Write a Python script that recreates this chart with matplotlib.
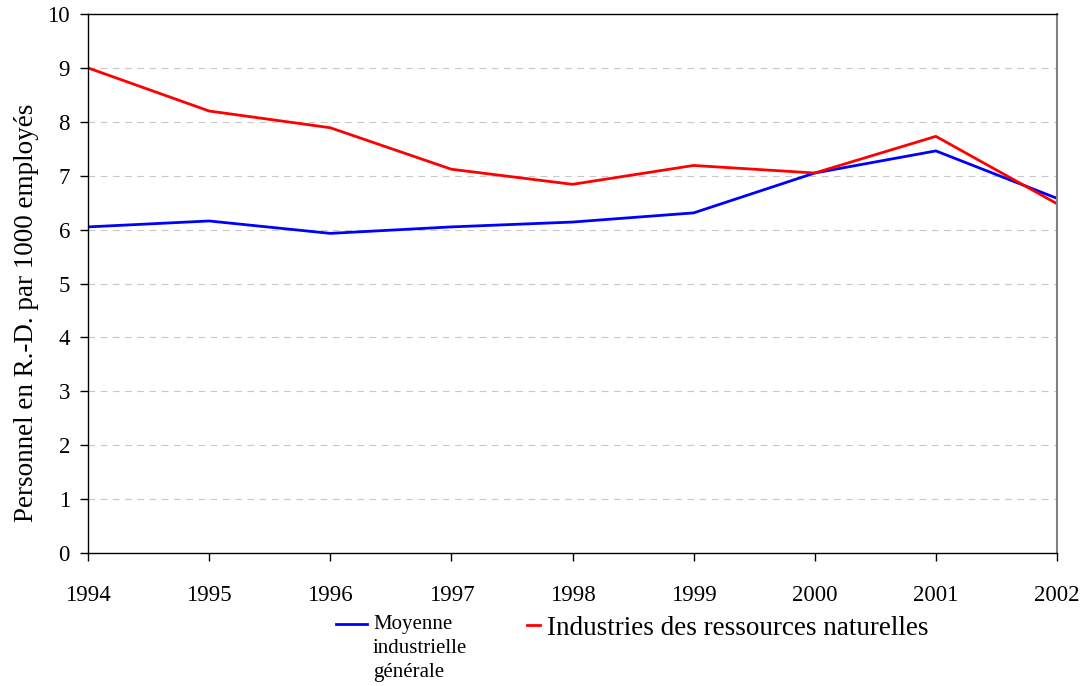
import matplotlib.pyplot as plt
from matplotlib.lines import Line2D

plt.rcParams['font.family'] = ['Liberation Serif', 'DejaVu Serif']

annees = [1994, 1995, 1996, 1997, 1998, 1999, 2000, 2001, 2002]
moyenne = [6.05, 6.16, 5.93, 6.05, 6.14, 6.31, 7.05, 7.46, 6.58]
ressources = [9.0, 8.2, 7.89, 7.12, 6.84, 7.19, 7.05, 7.73, 6.48]

W, H = 1084, 686
fig = plt.figure(figsize=(W / 100, H / 100), dpi=100)
ax = fig.add_axes([88 / W, 1 - 553 / H, (1057 - 88) / W, (553 - 14) / H])

ax.plot(annees, moyenne, color='#0000ff', lw=2)
ax.plot(annees, ressources, color='#ff0000', lw=2)

ax.set_xlim(1994, 2002)
ax.set_ylim(0, 10)
ax.set_xticks(annees)
ax.set_yticks(range(0, 11))
ax.tick_params(labelsize=16.5, direction='out', length=6, width=1)
ax.tick_params(axis='x', pad=17)
ax.tick_params(axis='y', pad=7)
ax.set_ylabel('Personnel en R.-D. par 1000 employés', fontsize=19.5)
ax.yaxis.set_label_coords(-0.051, 0.445)

for y in range(1, 10):
    ax.axhline(y, color='#c8c8c8', lw=0.8, ls=(0, (6, 5)), zorder=0)

ax.spines['right'].set_color('#808080')
ax.spines['right'].set_linewidth(1.5)
for s in ['left', 'bottom', 'top']:
    ax.spines[s].set_color('black')
    ax.spines[s].set_linewidth(1)

# legende faite a la main
fig.add_artist(Line2D([336 / W, 367 / W], [1 - 624 / H, 1 - 624 / H], color='#0000ff', lw=2))
for texte, base in [('Moyenne', 629), ('industrielle', 653), ('générale', 677)]:
    fig.text(373 / W, 1 - base / H, texte, fontsize=15, va='baseline', ha='left')
fig.add_artist(Line2D([527 / W, 540 / W], [1 - 625 / H, 1 - 625 / H], color='#ff0000', lw=2))
fig.text(547 / W, 1 - 635 / H, 'Industries des ressources naturelles', fontsize=19.5,
         va='baseline', ha='left')

fig.savefig('out.png', dpi=100)
